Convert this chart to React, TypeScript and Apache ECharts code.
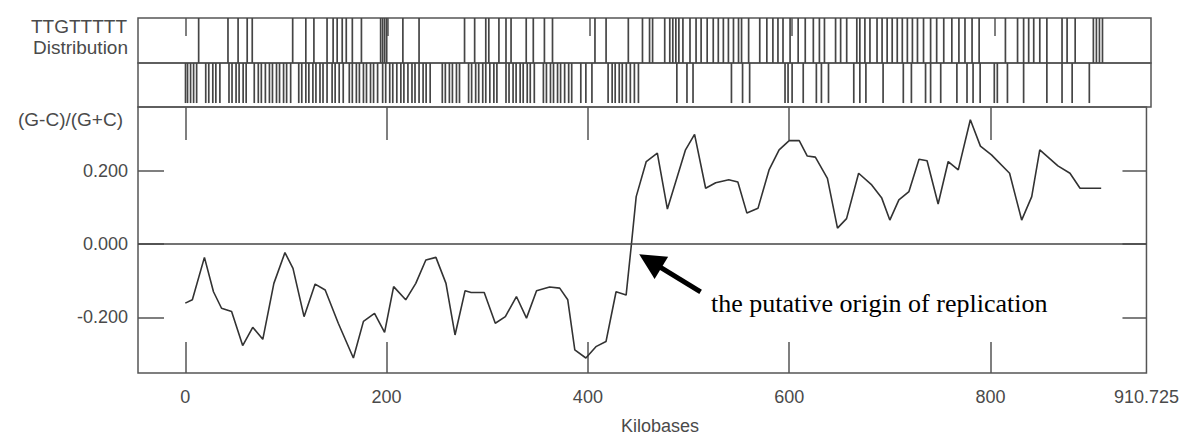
import React, { useEffect, useRef } from "react";
import * as echarts from "echarts";

// ---- data ----
const XMIN = -47;
const XMAX = 955;
const xTickValues = [0, 200, 400, 600, 800];
const xEndLabel = "910.725";
const yTickValues = [-0.2, 0, 0.2];

// (G-C)/(G+C) skew, [kilobase, value]
const skewKb = [0, 7, 19, 28, 36, 46, 57, 67, 77, 88, 99, 107, 118, 129, 139, 152, 167, 177, 188, 198, 207, 219, 229, 239, 249, 259, 268, 278, 284, 297, 308, 318, 329, 339, 349, 362, 372, 380, 387, 398, 408, 418, 428, 438, 443, 448, 458, 469, 479, 497, 506, 517, 527, 540, 549, 558, 569, 580, 590, 600, 610, 618, 626, 638, 648, 657, 669, 682, 692, 700, 709, 719, 729, 737, 748, 758, 768, 780, 790, 801, 819, 831, 841, 849, 867, 879, 889, 910];
const skewVal = [-0.161, -0.152, -0.036, -0.13, -0.175, -0.184, -0.277, -0.227, -0.26, -0.107, -0.023, -0.066, -0.198, -0.109, -0.125, -0.216, -0.311, -0.211, -0.189, -0.241, -0.116, -0.152, -0.107, -0.043, -0.036, -0.107, -0.248, -0.127, -0.132, -0.132, -0.216, -0.198, -0.143, -0.202, -0.127, -0.117, -0.12, -0.152, -0.289, -0.311, -0.28, -0.266, -0.13, -0.139, -0.007, 0.13, 0.226, 0.249, 0.096, 0.258, 0.3, 0.153, 0.168, 0.176, 0.17, 0.085, 0.098, 0.203, 0.258, 0.283, 0.283, 0.241, 0.238, 0.18, 0.044, 0.07, 0.194, 0.162, 0.126, 0.066, 0.121, 0.144, 0.232, 0.228, 0.11, 0.226, 0.203, 0.34, 0.268, 0.244, 0.194, 0.066, 0.13, 0.258, 0.214, 0.194, 0.153, 0.153];

// TTGTTTTT occurrences (kb) on the two strands
const upperStrand = [13, 42, 52, 61, 66, 106, 119, 127, 140, 146, 150, 155, 159, 165, 174, 193, 195, 197, 199, 215, 231, 276, 286, 297, 300, 310, 317, 322, 337, 344, 355, 363, 405, 416, 438, 452, 459, 462, 474, 479, 482, 485, 488, 492, 499, 505, 510, 516, 522, 527, 532, 537, 542, 547, 550, 557, 568, 575, 581, 586, 591, 598, 606, 613, 621, 627, 632, 643, 648, 654, 664, 667, 672, 677, 684, 689, 694, 699, 704, 709, 714, 719, 724, 730, 737, 743, 750, 758, 765, 771, 778, 785, 811, 823, 829, 834, 839, 845, 852, 867, 872, 880, 898, 901, 904, 907];
const lowerStrand = [0, 2, 5, 8, 11, 20, 23, 27, 30, 34, 43, 46, 50, 53, 57, 60, 68, 72, 75, 79, 83, 86, 90, 93, 97, 100, 104, 112, 115, 119, 122, 126, 129, 133, 136, 140, 145, 148, 152, 156, 162, 165, 169, 172, 176, 179, 183, 186, 190, 195, 198, 202, 205, 209, 213, 216, 220, 224, 227, 231, 235, 238, 242, 254, 257, 261, 264, 268, 271, 280, 283, 287, 290, 294, 297, 301, 305, 308, 317, 320, 324, 327, 331, 334, 338, 341, 345, 354, 357, 361, 364, 368, 371, 375, 379, 382, 391, 396, 402, 418, 422, 425, 429, 432, 436, 440, 444, 448, 486, 496, 502, 540, 551, 558, 593, 596, 600, 611, 624, 629, 636, 661, 667, 673, 690, 710, 718, 732, 737, 747, 763, 773, 779, 786, 800, 803, 813, 829, 852, 867, 877, 894];

// annotation arrow (data space)
const arrowTail = [512, -0.13];
const arrowHead = [462, -0.046];
const annotation = "the putative origin of replication";

const FRAME = "#555";
const TXT = "#4a4a4a";
const SANS = "'Liberation Sans', Arial, Helvetica, sans-serif";

function stripRender(yLow: number) {
  return (params: any, api: any) => {
    const x = api.value(0);
    const p0 = api.coord([x, yLow]);
    const p1 = api.coord([x, 1]);
    return {
      type: "line",
      shape: { x1: p0[0], y1: p0[1], x2: p1[0], y2: p1[1] },
      style: { stroke: "#454545", lineWidth: 1.7 },
    };
  };
}

export default function App() {
  const ref = useRef<HTMLDivElement>(null);
  useEffect(() => {
    if (!ref.current) return;
    const chart = echarts.init(ref.current, undefined, { renderer: "svg" });
    const gridBase = { left: 138, right: 31, show: true, borderColor: FRAME, borderWidth: 1.5, backgroundColor: "transparent" };
    const hiddenY = { type: "value", min: 0, max: 1, show: false };
    const noLine = { show: false, onZero: false };
    const tickOnlyX = (gridIndex: number, position: string, len: number) => ({
      type: "value",
      gridIndex,
      position,
      min: XMIN,
      max: XMAX,
      axisLine: noLine,
      splitLine: { show: false },
      axisLabel: { show: false },
      axisTick: { show: true, inside: true, length: len, customValues: xTickValues, lineStyle: { color: FRAME, width: 1.5 } },
    });
    chart.setOption({
      animation: false,
      backgroundColor: "#fff",
      grid: [
        { ...gridBase, top: 18, height: 45 },
        { ...gridBase, top: 63, height: 44 },
        { ...gridBase, top: 107, height: 266 },
      ],
      xAxis: [
        tickOnlyX(0, "top", 18),
        { ...tickOnlyX(1, "bottom", 0), axisTick: { show: false } },
        tickOnlyX(2, "top", 33),
        {
          type: "value",
          gridIndex: 2,
          position: "bottom",
          min: XMIN,
          max: XMAX,
          axisLine: noLine,
          splitLine: { show: false },
          axisTick: { show: true, inside: true, length: 31, customValues: xTickValues, lineStyle: { color: FRAME, width: 1.5 } },
          axisLabel: {
            show: true,
            margin: 15,
            customValues: [...xTickValues, XMAX],
            formatter: (v: number) => (v === XMAX ? xEndLabel : String(v)),
            color: TXT,
            fontSize: 18,
            fontFamily: SANS,
          },
        },
      ],
      yAxis: [
        { ...hiddenY, gridIndex: 0 },
        { ...hiddenY, gridIndex: 1 },
        {
          type: "value",
          gridIndex: 2,
          position: "left",
          min: -0.352,
          max: 0.375,
          axisLine: noLine,
          splitLine: { show: false },
          axisTick: { show: true, inside: true, length: 26, customValues: yTickValues, lineStyle: { color: FRAME, width: 1.5 } },
          axisLabel: {
            show: true,
            margin: 10,
            customValues: yTickValues,
            formatter: (v: number) => v.toFixed(3),
            color: TXT,
            fontSize: 18,
            fontFamily: SANS,
          },
        },
        {
          type: "value",
          gridIndex: 2,
          position: "right",
          min: -0.352,
          max: 0.375,
          axisLine: noLine,
          splitLine: { show: false },
          axisLabel: { show: false },
          axisTick: { show: true, inside: true, length: 24, customValues: yTickValues, lineStyle: { color: FRAME, width: 1.5 } },
        },
      ],
      series: [
        {
          type: "custom",
          xAxisIndex: 0,
          yAxisIndex: 0,
          renderItem: stripRender(0),
          encode: { x: 0, y: 1 },
          data: upperStrand.map((p) => [p, 1]),
          silent: true,
        },
        {
          type: "custom",
          xAxisIndex: 1,
          yAxisIndex: 1,
          renderItem: stripRender(0.09),
          encode: { x: 0, y: 1 },
          data: lowerStrand.map((p) => [p, 1]),
          silent: true,
        },
        {
          type: "line",
          xAxisIndex: 3,
          yAxisIndex: 2,
          data: skewKb.map((k, i) => [k, skewVal[i]]),
          showSymbol: false,
          symbol: "none",
          lineStyle: { color: "#333", width: 1.6 },
          markLine: {
            silent: true,
            animation: false,
            label: { show: false },
            data: [
              [
                { xAxis: XMIN, yAxis: 0, symbol: "none", lineStyle: { color: "#444", width: 1.6, type: "solid" } },
                { xAxis: XMAX, yAxis: 0, symbol: "none" },
              ],
              [
                { coord: arrowTail, symbol: "none", lineStyle: { color: "#000", width: 5, type: "solid" } },
                { coord: arrowHead, symbol: "triangle", symbolSize: [26, 26] },
              ],
            ],
          },
        },
      ],
      graphic: [
        { type: "text", x: 127, y: 26, style: { text: "TTGTTTTT", align: "right", verticalAlign: "middle", fill: TXT, font: `19px ${SANS}` } },
        { type: "text", x: 128, y: 47, style: { text: "Distribution", align: "right", verticalAlign: "middle", fill: TXT, font: `19px ${SANS}` } },
        { type: "text", x: 123, y: 119, style: { text: "(G-C)/(G+C)", align: "right", verticalAlign: "middle", fill: TXT, font: `19px ${SANS}` } },
        { type: "text", x: 660, y: 426, style: { text: "Kilobases", align: "center", verticalAlign: "middle", fill: TXT, font: `18px ${SANS}` } },
        { type: "text", x: 711, y: 303, style: { text: annotation, align: "left", verticalAlign: "middle", fill: "#000", font: `26px 'Liberation Serif', 'Times New Roman', serif` } },
      ],
    });
    return () => chart.dispose();
  }, []);
  return <div ref={ref} style={{ position: "absolute", left: 0, top: 0, width: 1182, height: 437 }} />;
}
